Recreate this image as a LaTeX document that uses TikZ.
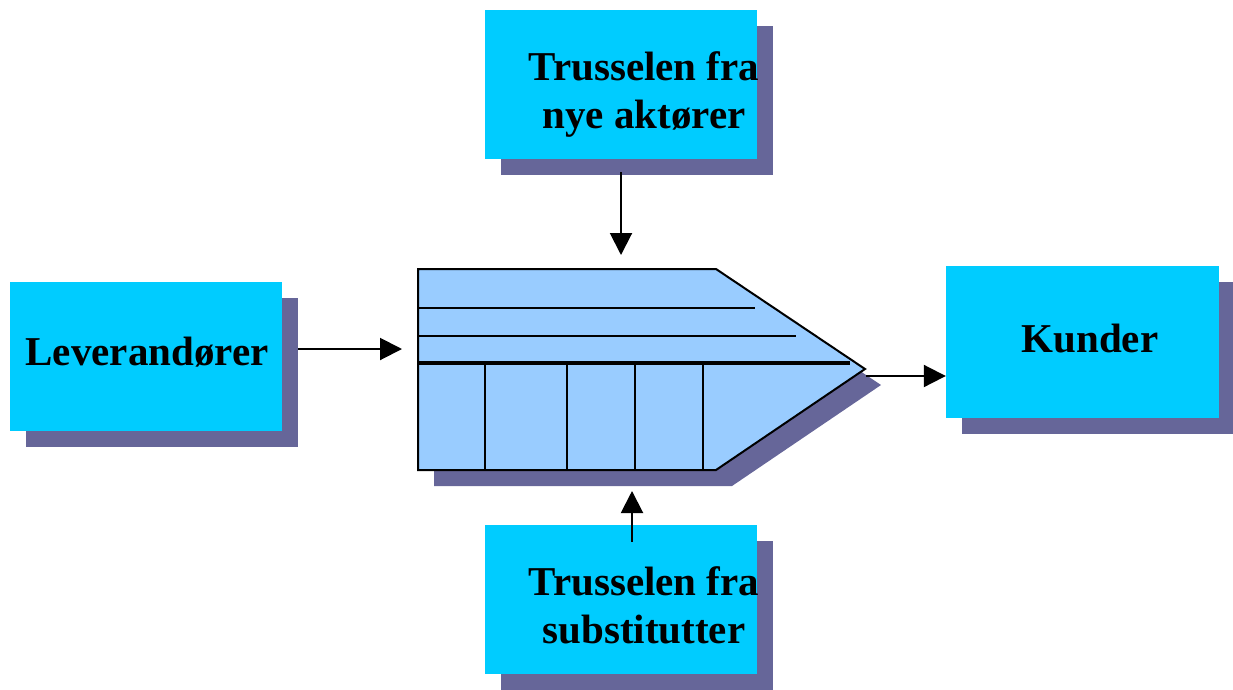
\documentclass[tikz,border=0pt]{standalone}
\usepackage{fontspec}
\setmainfont{Liberation Serif}
\usetikzlibrary{arrows.meta}
\usetikzlibrary{shadows}
\definecolor{boxcyan}{HTML}{00CCFF}
\definecolor{shade}{HTML}{666699}
\definecolor{chainblue}{HTML}{99CCFF}
\tikzstyle{dropped}=[drop shadow={shadow xshift=16pt, shadow yshift=-16pt, fill=shade, opacity=1}]
\tikzstyle{force}=[fill=boxcyan, minimum width=272pt, minimum height=149pt, inner sep=0pt, dropped]
\tikzstyle{caption}=[font=\fontsize{41}{48}\selectfont\bfseries, align=center, inner sep=0pt]
\tikzstyle{push}=[line width=2pt, -{Triangle[length=22pt,width=22pt]}]

\begin{document}
\begin{tikzpicture}[x=1pt, y=-1pt]
  \useasboundingbox (0,0) rectangle (1233,689);
  % the four outer boxes
  \node[force] (entrants) at (621,84.5) {};
  \node[force] (suppliers) at (146,356) {};
  \node[force, minimum width=273pt, minimum height=152pt] (customers) at (1082.5,342) {};
  \node[force] (substitutes) at (621,599.5) {};
  \node[caption] (entrantsT) at (644,94) {Trusselen fra\\nye aktører};
  \node[caption, anchor=base] (suppliersT) at (147,365) {Leverandører};
  \node[caption, anchor=base] (customersT) at (1090,352) {Kunder};
  \node[caption] (substitutesT) at (644,605) {Trusselen fra\\substitutter};
  % value chain in the middle
  \filldraw[fill=chainblue, line width=2pt, dropped]
    (418,269) -- (716,269) -- (865,369) -- (716,470) -- (418,470) -- cycle;
  \draw[line width=2pt] (418,308) -- (755,308);
  \draw[line width=2pt] (418,336) -- (796,336);
  \draw[line width=4pt] (418,363) -- (850,363);
  \foreach \x in {485,567,635,703}
    \draw[line width=2pt] (\x,363) -- (\x,470);
  \coordinate (inTop) at (621,255);
  \coordinate (inLeft) at (402,349);
  \coordinate (outRight) at (866,376);
  \coordinate (inBot) at (632,491);
  % the forces acting on it
  \draw[push] ([yshift=-13pt]entrants.south) -- (inTop);
  \draw[push] ([shift={(16,-7)}]suppliers.east) -- (inLeft);
  \draw[push] (outRight) -- (customers.west |- outRight);
  \draw[push] ([shift={(11,17)}]substitutes.north) -- (inBot);
\end{tikzpicture}
\end{document}
